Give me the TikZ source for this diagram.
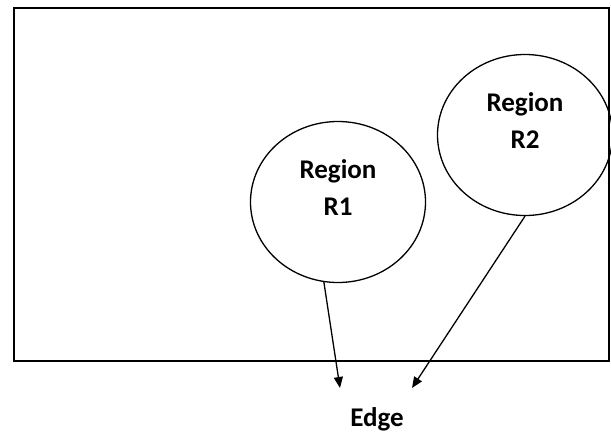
\documentclass[tikz,border=0pt]{standalone}
\usepackage{fontspec}
\setmainfont{Carlito}
\usetikzlibrary{arrows.meta, shapes.geometric}

\begin{document}
\begin{tikzpicture}[
    x=1pt, y=-1pt,
    region/.style={ellipse, draw, line width=1.3pt, minimum width=175pt, minimum height=161pt, inner sep=0pt},
    regtext/.style={align=center, font=\bfseries\fontsize{27}{37}\selectfont},
    >={Triangle[length=11pt, width=9pt]}]

\useasboundingbox (0,0) rectangle (611,434);

% Frame
\draw[line width=1.3pt] (14,8) rectangle (609,361);

% Regions R1 R2
\node[region] (r1) at (338,202) {};
\node[region] (r2) at (525,135) {};
\node[regtext] (r1txt) at ([yshift=14pt]r1.center) {Region\\R1};
\node[regtext] (r2txt) at ([yshift=14pt]r2.center) {Region\\R2};

% Edge label and arrows
\node[regtext] (edge) at (377,419) {Edge};
\coordinate (t1) at (340,388);
\coordinate (t2) at (412,388);
\draw[->, line width=1.3pt] (r1.260) -- (t1);
\draw[->, line width=1.3pt] (r2.south) -- (t2);
\end{tikzpicture}
\end{document}
